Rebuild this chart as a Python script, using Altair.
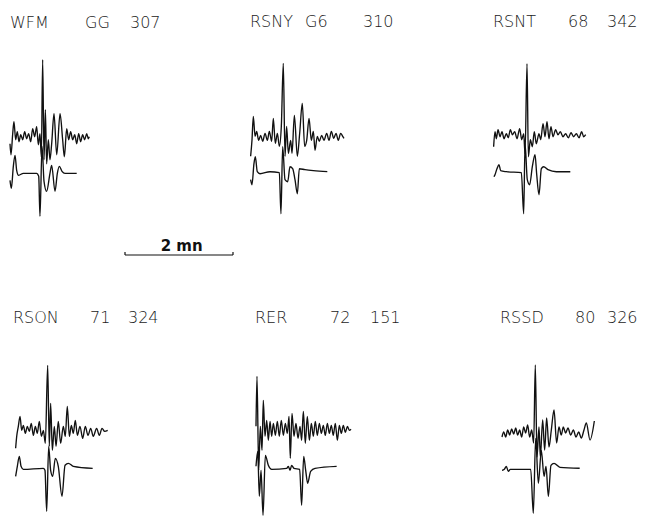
import altair as alt
import pandas as pd

# ---------------- data (time in s, amplitude in arbitrary units) ----------------
stations = ["WFM", "RSNY", "RSNT", "RSON", "RER", "RSSD"]
dist_labels = ["GG", "G6", "68", "71", "72", "80"]
az_labels = ["307", "310", "342", "324", "151", "326"]
scale_bar_seconds = 120
scale_bar_label = "2 mn"

wfm_obs = [(0, -7), (1.1, -18), (3.0, 3), (4.4, 15), (6.3, -3), (8.1, 5), (10, -5), (11.9, 2), (14.1, -3), (16.3, 5),
           (18.5, -2), (20.7, 3), (23, -5), (25.2, 8), (27.4, 0), (29.6, 10), (31.5, -8), (33.3, 3), (34.8, -20), (36.3, 77),
           (37.8, -23), (39.3, 27), (40.7, -27), (42.6, -3), (44.4, -23), (46.3, -7), (48.9, 23), (51.9, -18), (55.6, 23), (58.5, -3),
           (60.4, -20), (63, 8), (65.2, -3), (67.4, 5), (69.6, -3), (71.9, 2), (74.1, -7), (76.3, 3), (78.5, -5), (80.7, 2),
           (83, -3), (85.2, 3), (87, -2), (88.1, 0)]
wfm_syn = [(0, -7), (1.5, -15), (3.7, 7), (5.6, 18), (7.4, 3), (9.6, -2), (14.8, 0), (29.6, 0), (31.9, -3), (33.3, -43),
           (35.6, 27), (37.8, -8), (40.7, -18), (44.4, 0), (46.3, 8), (50, -18), (52.6, 0), (54.8, 7), (57.8, 2), (61.1, 0), (74.1, 0)]

rsny_obs = [(0.7, -18), (2.2, -2), (3.7, 22), (5.6, 2), (7.4, 7), (9.6, -2), (11.9, 3), (14.1, -3), (16.7, 5), (19.3, -2),
            (21.5, 7), (24.1, -3), (25.9, 20), (28.1, -5), (30.4, 5), (32.6, -8), (34.8, 12), (37, 75), (38.9, -18), (40.7, 12),
            (42.6, -15), (45.2, -2), (46.7, -15), (49.3, 23), (52.6, -18), (55.2, 5), (58.1, 35), (60.7, -8), (63, -2), (65.6, 20),
            (68.1, -2), (70.4, 7), (72.2, -12), (74.8, 2), (77, -3), (79.6, 3), (82.2, -2), (85.2, 5), (87.8, -2), (90.4, 7),
            (93, 0), (95.6, 5), (98.1, -2), (100.7, 5), (103, 2), (104.4, 0)]
rsny_syn = [(0.7, -8), (2.2, -13), (4.4, 8), (5.9, 15), (8.1, 0), (11.1, -2), (22.2, 0), (32.6, -1), (34.4, -42), (36.3, 25),
            (38.9, -8), (41.9, -10), (44.4, 5), (47.4, 3), (50, -8), (52.6, -22), (54.8, 3), (61.1, 2), (70.4, 1), (85.9, 0)]

rsnt_obs = [(0.7, -10), (2.2, 5), (3.7, -2), (5.6, 7), (7.8, 0), (10, 5), (12.2, -2), (14.8, 3), (17, -1), (19.3, 7),
            (21.5, 2), (24.1, 5), (26.7, -2), (29.6, 8), (31.9, -3), (34.1, 3), (35.6, -17), (37.8, 73), (39.3, -20), (41.5, -3),
            (43.7, -10), (45.9, 5), (48.1, -7), (51.1, 3), (53, -3), (55.6, 13), (57.8, 0), (60, 15), (62.2, -2), (64.4, 10),
            (66.7, 0), (69.6, 7), (72.2, 2), (74.8, 5), (77.8, 0), (80.7, 3), (83.7, -1), (86.7, 4), (89.6, 0), (92.6, 3),
            (95.6, -1), (98.5, 5), (100.7, 0), (103, 2)]
rsnt_syn = [(1.1, -5), (2.2, -3), (4.4, 3), (6.7, 7), (8.5, 1), (14.8, 0), (31.5, -1), (34.1, -42), (35.6, 28), (38.1, -8),
            (40.7, -13), (43.7, 5), (46.7, 17), (48.5, -2), (51.1, -23), (53.7, 3), (56.3, 5), (61.1, 2), (70.4, 0), (85.9, 0)]

rson_obs = [(0.7, -15), (1.9, -3), (3.7, 7), (5.6, 17), (7.4, 3), (9.3, 8), (11.5, 0), (13.7, 7), (15.9, 2), (18.1, 10),
            (20.4, -2), (22.6, 7), (24.8, 0), (27, 12), (29.3, -3), (31.5, 3), (33.7, -10), (36.3, 68), (38.1, -13), (39.6, 30),
            (41.5, -17), (43.7, 7), (45.6, -13), (48.1, 12), (50.7, -10), (53.7, 7), (55.9, -3), (58.1, 27), (60.4, -3), (62.6, 8),
            (64.8, 0), (67, 13), (69.3, -2), (72.2, 7), (75.2, -5), (78.1, 7), (81.1, -2), (84.1, 5), (87, -3), (90.7, 5),
            (93.7, -2), (96.7, 5), (99.6, 2), (103, 3)]
rson_syn = [(0.7, -8), (2.6, 2), (4.8, 12), (6.7, 2), (9.3, -1), (31.5, 0), (33.3, -2), (35.2, -43), (37.4, 22), (39.6, -2),
            (41.9, -8), (44.8, 10), (48.1, 2), (52.2, -28), (55.6, 3), (59.3, 5), (64.8, 2), (86.3, 0)]

rer_obs = [(0, 3), (1.1, 53), (3, -41), (4.8, 3), (6.7, -21), (8.1, 29), (10, -7), (11.9, 9), (13.7, -11), (15.6, 8),
           (17.4, -7), (19.3, 6), (21.5, -6), (23.7, 8), (25.9, -7), (28.1, 9), (30.4, -6), (32.6, 6), (34.8, -4), (36.7, 13),
           (38.1, -29), (40, 16), (42.2, -7), (44.4, 6), (46.7, -9), (48.9, 3), (50.7, -11), (52.6, 18), (54.8, -14), (57, 13),
           (59.3, -11), (61.5, 6), (63.7, -7), (65.9, 8), (68.1, -6), (70.4, 6), (72.6, -4), (74.8, 4), (77, -6), (79.3, 6),
           (81.5, -4), (83.7, 4), (85.9, -6), (88.1, 6), (90.4, -11), (92.6, 4), (94.8, -4), (97, 4), (99.3, -3), (101.5, 3),
           (103.7, -1), (105.6, 0)]
rer_syn = [(0, 2), (1.9, 17), (3.7, -28), (5.6, -2), (7.8, -47), (10.4, 13), (13.7, 3), (17.4, -1), (34.1, 0), (35.9, 2),
           (37.8, -2), (39.6, 3), (42.2, 0), (48.5, -1), (50.7, -37), (53, 12), (55.2, -2), (57.4, -15), (60.7, -3), (65.6, 0),
           (89.6, 2)]

rssd_obs = [(0, -2), (1.9, 3), (4.1, -2), (6.3, 5), (8.5, 0), (10.7, 6), (13, 1), (15.2, 7), (17.4, 0), (19.6, 5),
            (21.9, -2), (24.1, 8), (26.3, 2), (28.5, 10), (30.7, -2), (33, 5), (35.2, -8), (37, 70), (38.9, -22), (41.1, 8),
            (42.6, -22), (45.2, 15), (47.4, -15), (49.6, 17), (52.2, -12), (54.8, 5), (57.8, 25), (60.7, -8), (63.3, 8), (65.9, 0),
            (68.1, 8), (70.7, 2), (73.3, 7), (76.3, 0), (79.3, 5), (82.2, -2), (85.2, 3), (88.1, -3), (91.1, 5), (93.7, 12),
            (97.8, -5), (102.6, 14)]
rssd_syn = [(0, -1), (2.6, 0), (4.8, 3), (7, -2), (9.3, 0), (31.9, 0), (34.8, -44), (37.4, 31), (40.4, -14), (43.7, 19),
            (46.7, -7), (48.9, 3), (51.5, -27), (54.4, 4), (57.8, 6), (64.4, 2), (86.3, 1)]

traces = {
    "WFM": (wfm_obs, wfm_syn), "RSNY": (rsny_obs, rsny_syn), "RSNT": (rsnt_obs, rsnt_syn),
    "RSON": (rson_obs, rson_syn), "RER": (rer_obs, rer_syn), "RSSD": (rssd_obs, rssd_syn),
}

# ---------------- layout (pixels) ----------------
W, H = 652, 516
PX_PER_S = 108 / 120.0
layout = {  # trace start x, observed baseline y, synthetic baseline y, label x (name, dist, az), label baseline
    "WFM":  dict(x0=10,  obs=136.7, syn=173.3, lx=(10, 85, 130),  ly=28),
    "RSNY": dict(x0=250, obs=138.3, syn=171.7, lx=(250, 305, 363), ly=27),
    "RSNT": dict(x0=493, obs=136.7, syn=171.7, lx=(493, 568, 607), ly=27),
    "RSON": dict(x0=15,  obs=433.3, syn=468.3, lx=(13, 90, 128),  ly=323),
    "RER":  dict(x0=256, obs=429.3, syn=468.3, lx=(255, 330, 370), ly=323),
    "RSSD": dict(x0=502, obs=435.0, syn=469.3, lx=(500, 575, 607), ly=323),
}
scale_bar_x0, scale_bar_y = 125, 255

rows = []
for st in stations:
    L = layout[st]
    for kind, series in zip(("obs", "syn"), traces[st]):
        base = L[kind]
        for j, (t, a) in enumerate(series):
            rows.append(dict(trace=st + "_" + kind, order=j,
                             x=L["x0"] / PX_PER_S + t, y=(H - base) + a))
df = pd.DataFrame(rows)

lab_rows = []
for st, d, az in zip(stations, dist_labels, az_labels):
    L = layout[st]
    for txt, lx in zip((st, d, az), L["lx"]):
        lab_rows.append(dict(text=txt, x=lx / PX_PER_S, y=H - L["ly"]))
labels = pd.DataFrame(lab_rows)

sb_start = scale_bar_x0 / PX_PER_S
bar = pd.DataFrame([dict(x=sb_start, x2=sb_start + scale_bar_seconds, y=H - scale_bar_y)])
bar_ticks = pd.DataFrame([dict(x=sb_start, y=H - scale_bar_y, y2=H - scale_bar_y + 3),
                          dict(x=sb_start + scale_bar_seconds, y=H - scale_bar_y, y2=H - scale_bar_y + 3)])
bar_lab = pd.DataFrame([dict(text=scale_bar_label, x=sb_start + scale_bar_seconds / 2 + 3, y=H - scale_bar_y + 4)])

xs = alt.Scale(domain=[0, W / PX_PER_S], nice=False, zero=False)
ys = alt.Scale(domain=[0, H], nice=False, zero=False)

lines = alt.Chart(df).mark_line(color="#111111", strokeWidth=1.35, strokeJoin="round",
                                interpolate="monotone").encode(
    x=alt.X("x:Q", scale=xs, axis=None),
    y=alt.Y("y:Q", scale=ys, axis=None),
    detail="trace:N",
    order="order:Q",
)

texts = alt.Chart(labels).mark_text(align="left", baseline="alphabetic", font="DejaVu Sans",
                                     fontSize=16, fontWeight=300, color="#1a1a1a").encode(
    x=alt.X("x:Q", scale=xs, axis=None), y=alt.Y("y:Q", scale=ys, axis=None), text="text:N")

bar_rule = alt.Chart(bar).mark_rule(color="#111111", strokeWidth=1.2).encode(
    x=alt.X("x:Q", scale=xs, axis=None), x2="x2:Q", y=alt.Y("y:Q", scale=ys, axis=None))
bar_tick = alt.Chart(bar_ticks).mark_rule(color="#111111", strokeWidth=1.2).encode(
    x=alt.X("x:Q", scale=xs, axis=None), y=alt.Y("y:Q", scale=ys, axis=None), y2="y2:Q")
bar_text = alt.Chart(bar_lab).mark_text(align="center", baseline="alphabetic", font="DejaVu Sans",
                                        fontSize=15, fontWeight="bold", color="#111111").encode(
    x=alt.X("x:Q", scale=xs, axis=None), y=alt.Y("y:Q", scale=ys, axis=None), text="text:N")

chart = alt.layer(lines, texts, bar_rule, bar_tick, bar_text).properties(
    width=W, height=H, padding=0, autosize=alt.AutoSizeParams(type="none"), background="white"
).configure_view(strokeWidth=0)

chart.save("out.html", embed_options={"renderer": "svg", "actions": False})
